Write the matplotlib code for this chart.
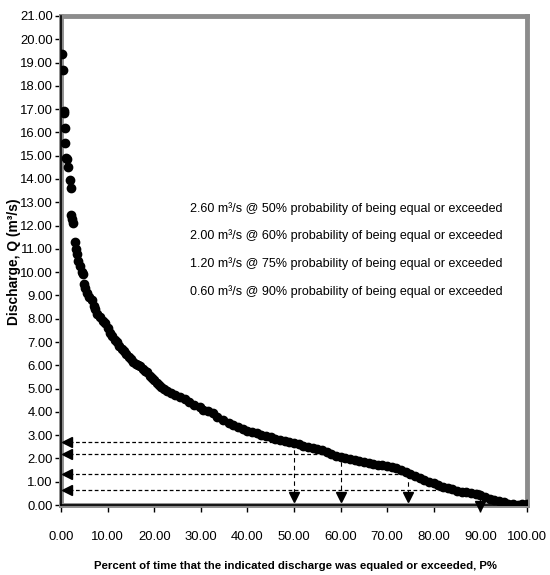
import matplotlib
matplotlib.use('Agg')
from matplotlib import pyplot as plt
from matplotlib import font_manager

names = set(f.name for f in font_manager.fontManager.ttflist)
if 'Liberation Sans Narrow' in names:
    plt.rcParams['font.family'] = ['Liberation Sans Narrow', 'DejaVu Sans']
    k = 1.0
else:
    plt.rcParams['font.family'] = ['Liberation Sans', 'DejaVu Sans']
    k = 0.86

# flow duration data: percent of time exceeded vs discharge (m3/s)
pct = [0.2, 0.4, 0.6, 0.7, 0.8, 0.9, 1.1, 1.2, 1.5, 1.9, 2.1, 2.1, 2.3, 2.6, 3.0, 3.2, 3.4, 3.7,
       4.0, 4.4, 4.7, 4.9, 5.2, 5.6, 6.0, 6.6, 7.0, 7.3, 7.8, 8.4, 9.0, 9.4, 10.0, 10.5, 11.0,
       11.5, 12.0, 12.5, 13.0, 13.5, 14.0, 14.5, 15.0, 15.5, 16.0, 16.5, 17.0, 17.5, 18.0, 18.5,
       19.0, 19.5, 20.0, 20.5, 21.0, 21.5, 22.0, 22.7, 23.5, 24.5, 25.5, 26.5, 27.5, 28.5, 29.8,
       30.5, 31.5, 32.6, 33.5, 34.8, 36.0, 37.0, 38.0, 39.0, 40.0, 41.0, 42.0, 43.0, 44.0, 45.0,
       46.0, 47.0, 48.0, 49.0, 50.0, 51.0, 52.0, 53.0, 54.0, 55.0, 56.0, 57.0, 58.0, 59.0, 60.0,
       61.0, 62.0, 63.0, 64.0, 65.0, 66.0, 67.0, 68.0, 69.0, 70.0, 71.0, 72.0, 73.0, 74.0, 75.0,
       76.0, 77.0, 78.0, 79.0, 80.0, 81.0, 82.0, 83.0, 84.0, 85.0, 86.0, 87.0, 88.0, 89.0, 90.0,
       91.0, 92.0, 93.0, 94.0, 95.0, 96.0, 97.0, 98.0, 99.0, 100.0]
discharge = [19.35, 18.7, 16.9, 16.85, 16.2, 15.55, 14.9, 14.85, 14.5, 13.95, 13.6, 12.45, 12.3,
             12.1, 11.3, 11.0, 10.8, 10.5, 10.25, 10.0, 9.9, 9.5, 9.3, 9.1, 8.95, 8.8, 8.55, 8.4,
             8.2, 8.07, 7.9, 7.8, 7.6, 7.4, 7.25, 7.1, 7.0, 6.85, 6.7, 6.6, 6.5, 6.35, 6.25, 6.15,
             6.05, 6.0, 5.95, 5.85, 5.75, 5.7, 5.55, 5.45, 5.35, 5.25, 5.15, 5.05, 4.98, 4.9, 4.8,
             4.72, 4.65, 4.55, 4.42, 4.3, 4.2, 4.1, 4.02, 3.95, 3.8, 3.65, 3.52, 3.42, 3.35, 3.28,
             3.2, 3.14, 3.08, 3.02, 2.96, 2.9, 2.84, 2.8, 2.75, 2.7, 2.65, 2.6, 2.55, 2.5, 2.45,
             2.4, 2.35, 2.28, 2.2, 2.12, 2.05, 2.0, 1.96, 1.92, 1.88, 1.85, 1.82, 1.78, 1.74, 1.7,
             1.66, 1.62, 1.57, 1.5, 1.42, 1.33, 1.25, 1.17, 1.08, 1.0, 0.93, 0.86, 0.78, 0.72,
             0.67, 0.62, 0.58, 0.55, 0.52, 0.48, 0.42, 0.36, 0.28, 0.22, 0.16, 0.11, 0.06, 0.03,
             0.02, 0.05, 0.06]

# read-off points (dashed guide lines)
guide_p = [50.0, 60.0, 74.5, 90.0]
guide_q = [2.72, 2.17, 1.32, 0.63]
guide_end = [0.15, 0.15, 0.15, -0.25]
notes = ['2.60 m³/s @ 50% probability of being equal or exceeded',
         '2.00 m³/s @ 60% probability of being equal or exceeded',
         '1.20 m³/s @ 75% probability of being equal or exceeded',
         '0.60 m³/s @ 90% probability of being equal or exceeded']

fig = plt.figure(figsize=(5.5, 5.75), dpi=100)
ax = fig.add_axes([0.111, 0.1217, 0.847, 0.8505])

ax.plot(pct, discharge, 'o', color='black', markersize=6, zorder=3)

for p, q, e in zip(guide_p, guide_q, guide_end):
    ax.plot([0.5, p], [q, q], color='black', lw=0.9, linestyle=(0, (3, 2)), zorder=2)
    ax.plot([p, p], [q, e + 0.25], color='black', lw=0.8, linestyle=(0, (4, 3)), zorder=2)
    ax.plot(1.3, q, marker='<', color='black', markersize=7, clip_on=False, zorder=4)
    ax.plot(p, e + 0.2, marker='v', color='black', markersize=7, clip_on=False, zorder=4)

for i, t in enumerate(notes):
    ax.text(27.7, 12.75 - 1.2 * i, t, fontsize=10.5 * k, va='center', ha='left')

ax.set_xlim(0, 100)
ax.set_ylim(0, 21)
ax.set_xticks(range(0, 101, 10))
ax.set_yticks(range(0, 22))
ax.set_xticklabels(['%.2f' % v for v in range(0, 101, 10)], fontsize=11 * k)
ax.set_yticklabels(['%.2f' % v for v in range(0, 22)], fontsize=11 * k)
ax.tick_params(axis='x', direction='out', length=5, width=1, pad=14, color='black')
ax.tick_params(axis='y', direction='out', length=4, width=1, pad=2, color='black')

for s in ax.spines.values():
    s.set_color('#8c8c8c')
    s.set_linewidth(3.5)
ax.axvline(0, color='black', lw=1.2, clip_on=False, zorder=5)
ax.axhline(0, color='black', lw=1.2, clip_on=False, zorder=5)

fig.text(0.537, 0.016, 'Percent of time that the indicated discharge was equaled or exceeded, P%',
         ha='center', va='center', fontsize=8.2 if k < 1 else 11, fontweight='bold')
fig.text(0.026, 0.545, 'Discharge, Q (m³/s)', rotation=90, ha='center', va='center',
         fontsize=11.5 * k, fontweight='bold', zorder=0)

fig.savefig('out.png', dpi=100)
